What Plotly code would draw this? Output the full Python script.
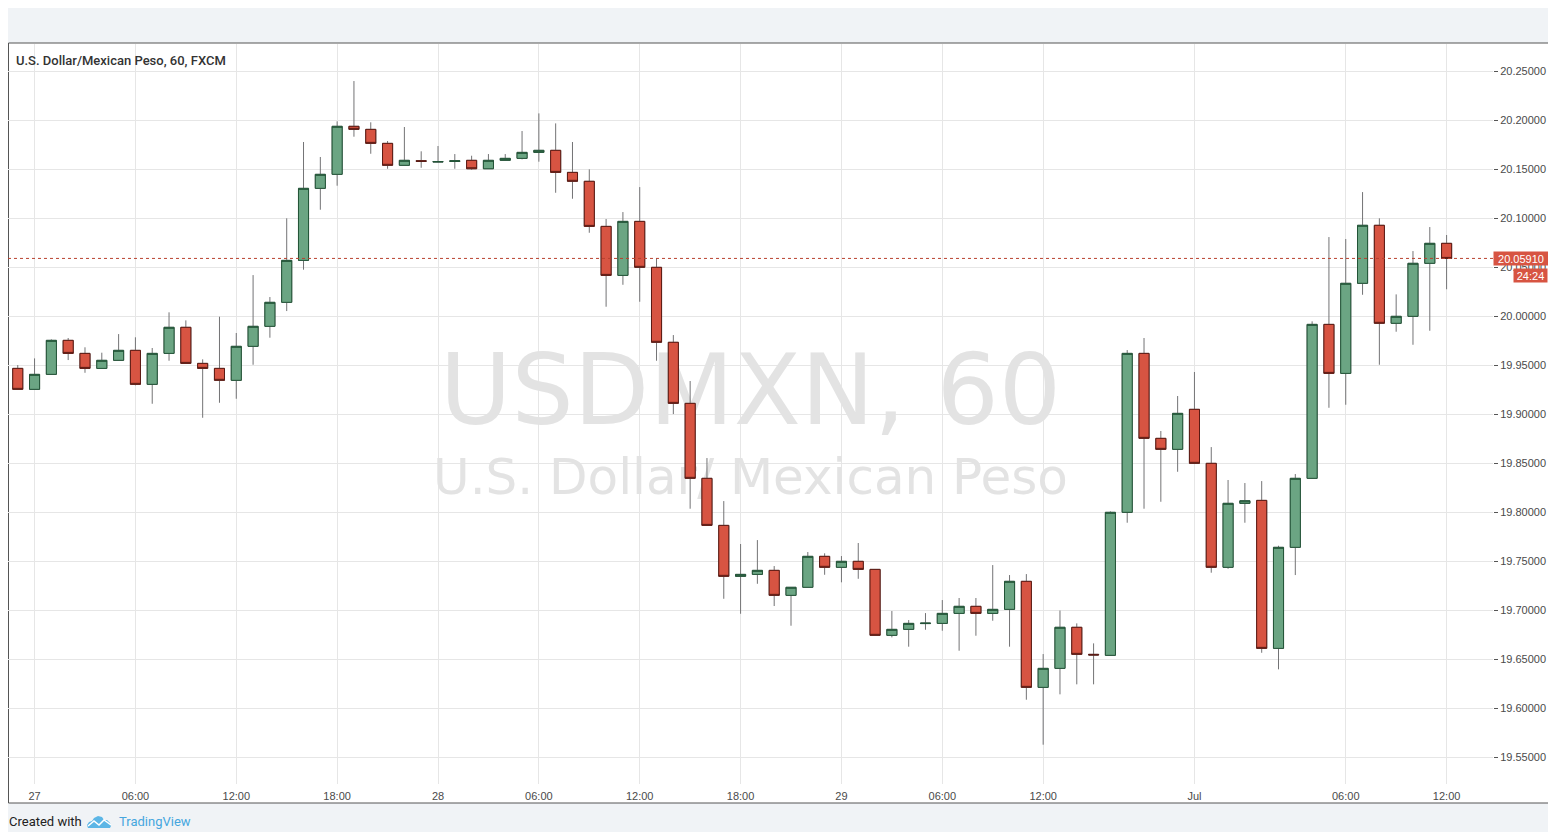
import plotly.graph_objects as go

# page body keeps an 8px margin, so the figure is 16px smaller than the window
OFF = 8
W, H = 1556 - 2 * OFF, 840 - 2 * OFF
L, R, T, B = 0, 55, 36, 48
PW, PH = W - L - R, H - T - B

GREEN = "#6ba583"
GREEN_EDGE = "#225437"
RED = "#d75442"
RED_EDGE = "#5b1a13"
WICK = "#737375"
GRID = "#e6e6e6"
AXIS_LINE = "#555555"
TEXT = "#4a4a4a"

# =========================
# DATA (USDMXN, 1h bars)
# =========================
bar = list(range(86))

open_ = [
    19.9469, 19.9255, 19.9408, 19.9755, 19.9622, 19.9469, 19.9551, 19.9653, 19.9306, 19.9622,
    19.9888, 19.9520, 19.9469, 19.9347, 19.9694, 19.9898, 20.0143, 20.0571, 20.1306, 20.1449,
    20.1939, 20.1908, 20.1765, 20.1541, 20.1588, 20.1574, 20.1580, 20.1592, 20.1506, 20.1592,
    20.1612, 20.1673, 20.1694, 20.1469, 20.1378, 20.0918, 20.0418, 20.0969, 20.0500, 19.9735,
    19.9112, 19.8347, 19.7867, 19.7347, 19.7367, 19.7408, 19.7153, 19.7235, 19.7551, 19.7439,
    19.7500, 19.7418, 19.6745, 19.6806, 19.6865, 19.6867, 19.6969, 19.7041, 19.6969, 19.7010,
    19.7296, 19.6214, 19.6408, 19.6827, 19.6551, 19.6541, 19.8000, 19.9622, 19.8755, 19.8643,
    19.9051, 19.8500, 19.7439, 19.8092, 19.8122, 19.6612, 19.7643, 19.8347, 19.9918, 19.9418,
    20.0337, 20.0929, 19.9929, 20.0000, 20.0541, 20.0745,
]

high = [
    19.9503, 19.9571, 19.9765, 19.9779, 19.9684, 19.9629, 19.9819, 19.9786, 19.9677, 20.0041,
    19.9959, 19.9561, 19.9996, 19.9830, 20.0421, 20.0197, 20.1000, 20.1779, 20.1626, 20.1990,
    20.2401, 20.1980, 20.1789, 20.1932, 20.1684, 20.1738, 20.1656, 20.1639, 20.1656, 20.1656,
    20.1891, 20.2071, 20.1969, 20.1779, 20.1500, 20.0993, 20.1064, 20.1319, 20.0592, 19.9809,
    19.9340, 19.8554, 19.8115, 19.7677, 19.7717, 19.7452, 19.7235, 19.7595, 19.7582, 19.7554,
    19.7687, 19.7420, 19.6993, 19.6901, 19.6972, 19.7105, 19.7126, 19.7126, 19.7462, 19.7360,
    19.7370, 19.6554, 19.6998, 19.6867, 19.6663, 19.8010, 19.9656, 19.9779, 19.8830, 19.9187,
    19.9432, 19.8666, 19.8330, 19.8299, 19.8319, 19.7659, 19.8391, 19.9949, 20.0809, 20.0789,
    20.1268, 20.1000, 20.0224, 20.0666, 20.0911, 20.0830,
]

low = [
    19.9255, 19.9250, 19.9405, 19.9554, 19.9424, 19.9465, 19.9550, 19.9296, 19.9108, 19.9547,
    19.9518, 19.8965, 19.9118, 19.9159, 19.9506, 19.9782, 20.0054, 20.0476, 20.1088, 20.1333,
    20.1833, 20.1659, 20.1506, 20.1541, 20.1516, 20.1571, 20.1506, 20.1496, 20.1506, 20.1590,
    20.1602, 20.1578, 20.1261, 20.1200, 20.0853, 20.0098, 20.0322, 20.0149, 19.9547, 19.9003,
    19.8037, 19.7865, 19.7118, 19.6965, 19.7271, 19.7044, 19.6843, 19.7235, 19.7363, 19.7286,
    19.7322, 19.6745, 19.6724, 19.6629, 19.6802, 19.6792, 19.6588, 19.6741, 19.6894, 19.6629,
    19.6088, 19.5629, 19.6143, 19.6245, 19.6245, 19.6540, 19.7894, 19.8037, 19.8108, 19.8414,
    19.8498, 19.7384, 19.7424, 19.7894, 19.6567, 19.6398, 19.7360, 19.8345, 19.9067, 19.9098,
    20.0220, 19.9506, 19.9843, 19.9710, 19.9853, 20.0276,
]

close = [
    19.9255, 19.9408, 19.9755, 19.9622, 19.9469, 19.9551, 19.9653, 19.9306, 19.9622, 19.9888,
    19.9520, 19.9469, 19.9347, 19.9694, 19.9898, 20.0143, 20.0571, 20.1306, 20.1449, 20.1939,
    20.1908, 20.1765, 20.1541, 20.1592, 20.1582, 20.1580, 20.1587, 20.1506, 20.1592, 20.1612,
    20.1673, 20.1694, 20.1469, 20.1378, 20.0918, 20.0418, 20.0969, 20.0500, 19.9735, 19.9112,
    19.8347, 19.7867, 19.7347, 19.7367, 19.7408, 19.7153, 19.7235, 19.7551, 19.7439, 19.7500,
    19.7418, 19.6745, 19.6806, 19.6867, 19.6869, 19.6969, 19.7041, 19.6969, 19.7010, 19.7296,
    19.6214, 19.6408, 19.6827, 19.6551, 19.6545, 19.8000, 19.9622, 19.8755, 19.8643, 19.9010,
    19.8500, 19.7439, 19.8092, 19.8118, 19.6612, 19.7643, 19.8347, 19.9918, 19.9418, 20.0337,
    20.0929, 19.9929, 20.0000, 20.0541, 20.0745, 20.0591,
]

time_ticks = [1, 7, 13, 19, 25, 31, 37, 43, 49, 55, 61, 70, 79, 85]
time_labels = ["27", "06:00", "12:00", "18:00", "28", "06:00", "12:00", "18:00",
               "29", "06:00", "12:00", "Jul", "06:00", "12:00"]

price_ticks = [19.55, 19.60, 19.65, 19.70, 19.75, 19.80, 19.85,
               19.90, 19.95, 20.00, 20.05, 20.10, 20.15, 20.20, 20.25]

countdown = "24:24"

X_RANGE = [-0.58, 87.76]
Y_RANGE = [19.5228, 20.2779]


def px(x):
    # screen pixel -> paper x
    return (x - OFF - L) / PW


def py(y):
    # screen pixel -> paper y
    return (H - B - (y - OFF)) / PH


def pixel_path(points, closed=True):
    parts = []
    for i, (x, y) in enumerate(points):
        parts.append(("M" if i == 0 else "L") + f"{px(x):.5f},{py(y):.5f}")
    return " ".join(parts) + (" Z" if closed else "")


fig = go.Figure()

# =========================
# WATERMARK (behind candles)
# =========================
wm_x = (X_RANGE[0] + X_RANGE[1]) / 2
fig.add_trace(go.Scatter(
    x=[wm_x, wm_x],
    y=[19.915, 19.831],
    mode="text",
    text=["USDMXN, 60", "U.S. Dollar/ Mexican Peso"],
    textposition="middle center",
    textfont=dict(family=["DejaVu Sans", "DejaVu Sans"], size=[98, 50], color="#e3e3e3"),
    hoverinfo="skip",
    showlegend=False,
    zorder=-1,
))

# =========================
# CANDLES: wicks, then bodies on top
# =========================
fig.add_trace(go.Candlestick(
    x=bar, open=open_, high=high, low=low, close=close,
    increasing=dict(line=dict(color=WICK, width=1), fillcolor=GREEN),
    decreasing=dict(line=dict(color=WICK, width=1), fillcolor=RED),
    whiskerwidth=0,
    showlegend=False,
))

body_hi = [max(o, c) for o, c in zip(open_, close)]
body_lo = [min(o, c) for o, c in zip(open_, close)]

fig.add_trace(go.Candlestick(
    x=bar, open=open_, high=body_hi, low=body_lo, close=close,
    increasing=dict(line=dict(color=GREEN_EDGE, width=1), fillcolor=GREEN),
    decreasing=dict(line=dict(color=RED_EDGE, width=1), fillcolor=RED),
    whiskerwidth=0,
    showlegend=False,
))

last = close[-1]

fig.update_layout(
    width=W,
    height=H,
    margin=dict(l=L, r=R, t=T, b=B, pad=0),
    paper_bgcolor="#f0f3f6",
    plot_bgcolor="#ffffff",
    font=dict(family="Liberation Sans, Arial, sans-serif", size=11, color=TEXT),
    hovermode=False,
    showlegend=False,
    boxmode="overlay",
    boxgap=0.4,
    boxgroupgap=0,
    xaxis=dict(
        range=X_RANGE,
        tickvals=time_ticks,
        ticktext=time_labels,
        showgrid=True,
        gridcolor=GRID,
        zeroline=False,
        showline=True,
        linecolor=AXIS_LINE,
        linewidth=1,
        ticks="outside",
        ticklen=2,
        tickcolor="rgba(0,0,0,0)",
        tickfont=dict(size=11, color=TEXT),
        rangeslider=dict(visible=False),
        fixedrange=True,
    ),
    yaxis=dict(
        range=Y_RANGE,
        side="right",
        tickvals=price_ticks,
        tickformat=".5f",
        showgrid=True,
        gridcolor=GRID,
        zeroline=False,
        showline=True,
        linecolor=AXIS_LINE,
        linewidth=1,
        ticks="outside",
        ticklen=4,
        tickcolor=AXIS_LINE,
        tickfont=dict(size=11, color=TEXT),
        fixedrange=True,
    ),
)

# white chart frame around plot + axes
fig.add_shape(
    type="rect", xref="paper", yref="paper", layer="below",
    x0=px(OFF + 0.5), x1=px(1549.5), y0=py(803), y1=py(43),
    fillcolor="#ffffff", line=dict(color=AXIS_LINE, width=1),
)

# last price line
fig.add_shape(
    type="line", xref="paper", yref="y",
    x0=0, x1=1, y0=last, y1=last,
    line=dict(color="#b8402e", width=1, dash="dot"),
)

# TradingView logo (cloud + zigzag)
fig.add_shape(
    type="path", xref="paper", yref="paper",
    path=pixel_path([(88, 828), (87, 825), (89, 822), (92, 821), (94, 818), (98, 816),
                     (102, 817), (104, 820), (107, 820), (110, 823), (111, 826), (110, 828)]),
    fillcolor="#5cb6e6", line=dict(width=0),
)
fig.add_shape(
    type="path", xref="paper", yref="paper",
    path=pixel_path([(88, 826), (94, 821), (99, 825), (104, 820), (111, 825)], closed=False),
    line=dict(color="#ffffff", width=1.5),
)

annotations = [
    dict(text="U.S. Dollar/Mexican Peso, 60, FXCM", x=px(13.5), y=py(60),
         xanchor="left", yanchor="middle",
         font=dict(family="Roboto", size=13, color="#333333", weight=500)),
    dict(text=f"{last:.5f}", x=1, y=last, yref="y", xanchor="left", yanchor="middle",
         width=52, height=11, align="center",
         bgcolor=RED, borderpad=1, font=dict(size=11, color="#ffffff")),
    dict(text=countdown, x=px(1548), y=py(275.5), xanchor="right", yanchor="middle",
         width=31, height=11, align="center",
         bgcolor=RED, borderpad=1, font=dict(size=11, color="#ffffff")),
    dict(text="Created with", x=px(7), y=py(822), xanchor="left", yanchor="middle",
         font=dict(family="Roboto", size=13, color="#222222")),
    dict(text="TradingView", x=px(117), y=py(822), xanchor="left", yanchor="middle",
         font=dict(family="Roboto", size=13, color="#45a6de")),
]
for a in annotations:
    a.setdefault("xref", "paper")
    a.setdefault("yref", "paper")
    a["showarrow"] = False
    fig.add_annotation(**a)

fig.write_html("out.html")
